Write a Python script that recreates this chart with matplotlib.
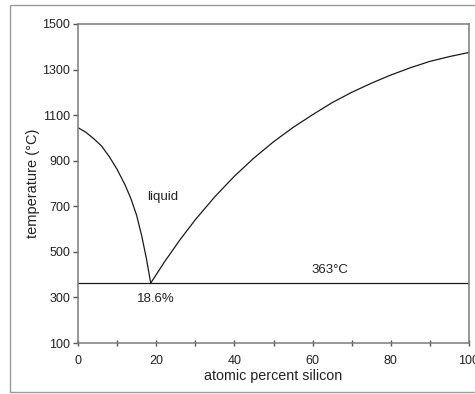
import matplotlib
matplotlib.use("Agg")
import matplotlib.pyplot as plt
from matplotlib.patches import Rectangle

plt.rcParams['font.family'] = ['Liberation Sans', 'DejaVu Sans']

# Data
left_x = [0, 2, 4, 6, 8, 10, 12, 13.5, 15, 16.3, 17.5, 18.6]
left_t = [1045, 1025, 997, 965, 918, 862, 795, 735, 660, 570, 470, 363]

right_x = [18.6, 22, 26, 30, 35, 40, 45, 50, 55, 60, 65, 70, 75, 80, 85, 90, 95, 100]
right_t = [363, 453, 551, 641, 742, 832, 912, 983, 1046, 1102, 1155, 1200, 1240, 1276,
           1308, 1336, 1357, 1375]

eutectic_x = [0, 100]
eutectic_t = [363, 363]

x_major = [0, 20, 40, 60, 80, 100]
x_minor = [10, 30, 50, 70, 90]
y_ticks = [100, 300, 500, 700, 900, 1100, 1300, 1500]

fig = plt.figure(figsize=(4.75, 3.94), dpi=100)
ax = fig.add_axes([78/475, 1-343/394, (469-78)/475, (343-24)/394])

fig.patches.append(Rectangle((10/475, 2/394), 1.0, 1-7/394, transform=fig.transFigure,
                             fill=False, edgecolor='#9a9a9a', linewidth=1.0))

ax.plot(left_x, left_t, color='#1a1a1a', lw=0.9)
ax.plot(right_x, right_t, color='#1a1a1a', lw=0.9)
ax.plot(eutectic_x, eutectic_t, color='#1a1a1a', lw=0.9)

ax.set_xlim(0, 100)
ax.set_ylim(100, 1500)
ax.set_xticks(x_major)
ax.set_xticks(x_minor, minor=True)
ax.set_yticks(y_ticks)

for s in ax.spines.values():
    s.set_color('#7a7a7a')
    s.set_linewidth(1.1)

ax.tick_params(axis='x', which='both', direction='inout', length=5, width=1.0,
               color='#555555', labelsize=9, pad=6.5, labelcolor='#222222')
ax.tick_params(axis='y', direction='out', length=3.5, width=1.0,
               color='#555555', labelsize=9, pad=2, labelcolor='#222222')

ax.set_xlabel('atomic percent silicon', fontsize=10.3, color='#222222', labelpad=1)
ax.set_ylabel('temperature (°C)', fontsize=10.5, color='#222222', labelpad=2)

ax.text(21.7, 740, 'liquid', fontsize=9.5, color='#222222', ha='center', va='center')
ax.text(64.5, 420, '363°C', fontsize=9.5, color='#222222', ha='center', va='center')
ax.text(20.0, 293, '18.6%', fontsize=9.5, color='#222222', ha='center', va='center')

fig.savefig('out.png', dpi=100)
